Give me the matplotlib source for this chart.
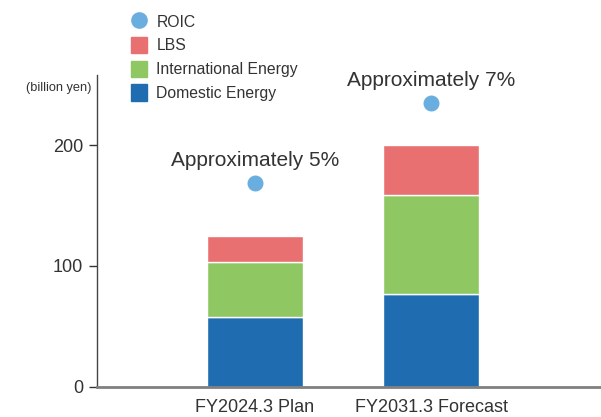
import numpy as np
import matplotlib.pyplot as plt
from matplotlib.patches import Patch
from matplotlib.lines import Line2D

plt.rcParams['font.family'] = ['Liberation Sans', 'DejaVu Sans']

periods = ['FY2024.3 Plan', 'FY2031.3 Forecast']
domestic = [58, 77]
international = [45, 82]
lbs = [22, 41]
roic_pos = [169, 235]
roic_labels = ['Approximately 5%', 'Approximately 7%']

c_dom = '#1f6db0'
c_int = '#8fc862'
c_lbs = '#e87070'
c_roic = '#6aaee0'
txt = '#333333'

fig = plt.figure(figsize=(6.01, 4.17), dpi=100)
ax = fig.add_axes([97/601, 1-386.5/417, 1-97/601, (386.5-75)/417])

x = np.arange(len(periods))
w = 0.55
bottom2 = np.array(domestic) + np.array(international)
ax.bar(x, domestic, w, color=c_dom, edgecolor='white', linewidth=1)
ax.bar(x, international, w, bottom=domestic, color=c_int, edgecolor='white', linewidth=1)
ax.bar(x, lbs, w, bottom=bottom2, color=c_lbs, edgecolor='white', linewidth=1)

ax.scatter(x, roic_pos, s=110, color=c_roic, zorder=3)
for xi, yi, lab in zip(x, roic_pos, roic_labels):
    ax.text(xi, yi + 11, lab, ha='center', va='bottom', fontsize=15, color=txt)

ax.set_xlim(-0.898, 1.966)
ax.set_ylim(0, 258.5)
ax.set_yticks([0, 100, 200])
ax.set_xticks(x)
ax.set_xticklabels(periods)
ax.tick_params(axis='y', labelsize=13, colors=txt, length=6, width=1, pad=4)
ax.tick_params(axis='x', labelsize=13, colors=txt, length=0, pad=9)
for s in ['top', 'right']:
    ax.spines[s].set_visible(False)
ax.spines['left'].set_color('#444444')
ax.spines['left'].set_linewidth(1)
ax.spines['bottom'].set_color('#808080')
ax.spines['bottom'].set_linewidth(2)

ax.text(-0.01, 1.0 - 13/311, '(billion yen)', transform=ax.transAxes, ha='right',
        va='center', fontsize=9.2, color=txt)

handles = [
    Line2D([], [], marker='o', linestyle='', markersize=11, color=c_roic),
    Patch(color=c_lbs),
    Patch(color=c_int),
    Patch(color=c_dom),
]
labels = ['ROIC', 'LBS', 'International Energy', 'Domestic Energy']
fig.legend(handles, labels, loc='upper left', bbox_to_anchor=(125/601, 1-7/417),
           frameon=False, fontsize=11.3, handlelength=1.0, handleheight=1.2,
           handletextpad=0.6, labelspacing=0.47, labelcolor=txt, borderaxespad=0)

fig.savefig('out.png', dpi=100)
